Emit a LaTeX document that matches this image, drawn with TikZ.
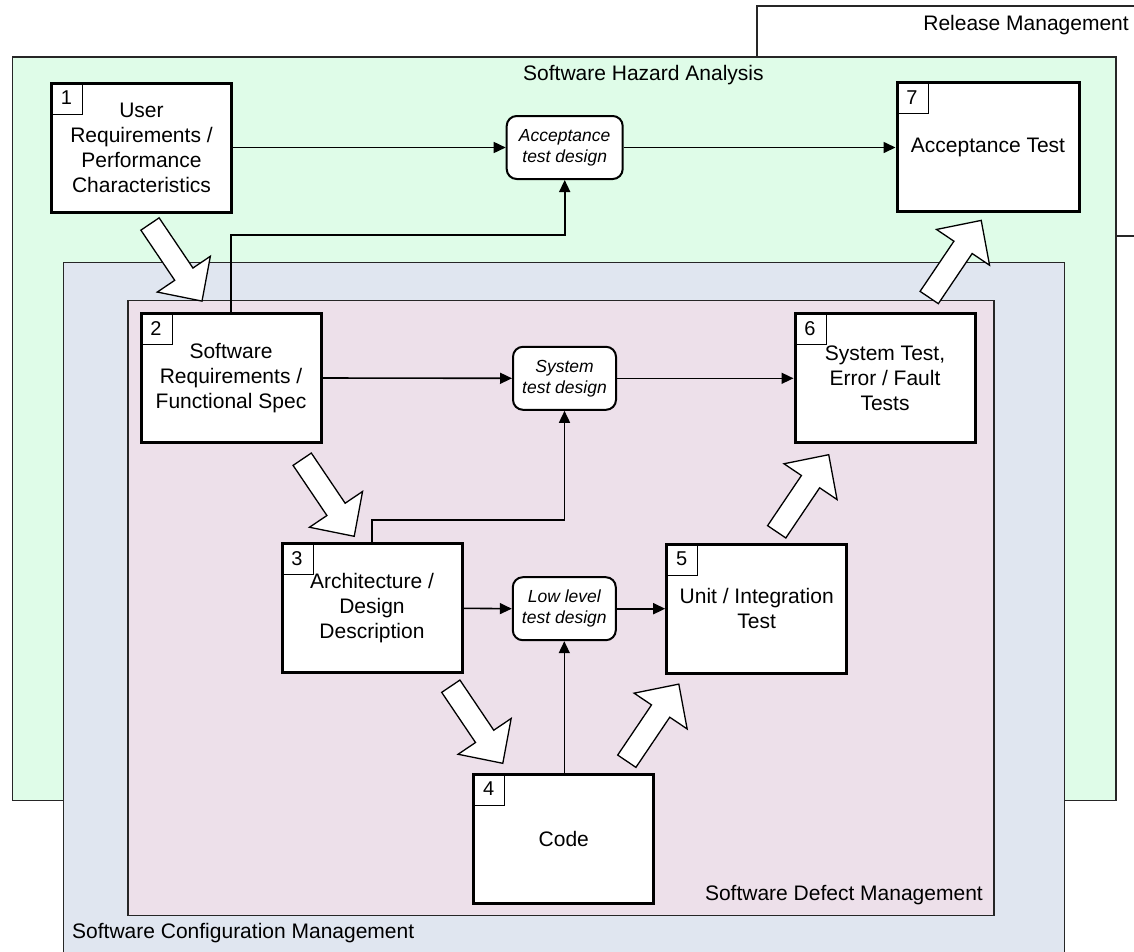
\documentclass[tikz,border=0pt]{standalone}
\usepackage{fontspec}
\setmainfont{Liberation Sans}
\usetikzlibrary{arrows.meta,calc}
\definecolor{hazard}{RGB}{223,252,232}
\definecolor{config}{RGB}{224,230,240}
\definecolor{defect}{RGB}{237,224,234}
\tikzset{
 stepbox/.style={draw, line width=3pt, fill=white, minimum width=180pt, minimum height=129pt, align=center, inner sep=0pt, font=\fontsize{21}{25}\selectfont},
 numbox/.style={draw, line width=1pt, minimum size=32pt, inner sep=0pt, anchor=north west, font=\fontsize{20}{20}\selectfont},
 design/.style={draw, line width=2pt, fill=white, rounded corners=10pt, minimum height=63pt, align=center, inner sep=0pt, font=\fontsize{17.5}{21}\selectfont\itshape},
 conn/.style={line width=1.6pt, -{Triangle[length=12pt,width=11pt]}},
 zone/.style={line width=1.5pt, draw=black!85},
 lbl/.style={inner sep=0pt, font=\fontsize{21}{25}\selectfont},
 pics/bigarrow/.style={code={\draw[line width=1.3pt, fill=white, line join=miter] (0,-11) -- (60.5,-11) -- (60.5,-32) -- (93,0) -- (60.5,32) -- (60.5,11) -- (0,11) -- cycle;}}
}
\begin{document}
\begin{tikzpicture}[x=1pt,y=-1pt]
\useasboundingbox (0,0) rectangle (1134,951);
\clip (0,0) rectangle (1134,951);
\fill[white] (0,0) rectangle (1134,951);
% zones
\draw[zone, fill=white] (757,6) rectangle (1170,236);
\node[lbl, anchor=east] (relL) at (1129,25) {Release Management};
\draw[zone, fill=hazard] (12.5,57) rectangle (1116,800.5);
\node[lbl, anchor=west] (hazL) at (523,75) {Software Hazard Analysis};
\draw[zone, fill=config] (63.5,262.5) rectangle (1064.5,980);
\node[lbl, anchor=west] (cfgL) at (72,933) {Software Configuration Management};
\draw[zone, fill=defect] (128,300.5) rectangle (994,915.5);
\node[lbl, anchor=east] (defL) at (983,895) {Software Defect Management};
% helper rows
\coordinate (k1) at (0,235);
\coordinate (k2) at (0,520);
% step nodes
\node[stepbox] (n1) at (141.5,147.5) {User\\Requirements /\\Performance\\Characteristics};
\node[stepbox] (n2) at (231,378) {Software\\Requirements /\\Functional Spec};
\node[stepbox] (n3) at (372,608.3) {Architecture /\\Design\\Description};
\node[stepbox] (n4) at (563.8,838.5) {Code};
\node[stepbox] (n5) at (756.7,608.5) {Unit / Integration\\Test};
\node[stepbox] (n6) at (885,378) {System Test,\\Error / Fault\\Tests};
\node[stepbox, minimum width=182pt] (n7) at (988,147) {Acceptance Test};
\foreach \i in {1,...,7} {\node[numbox] (num\i) at (n\i.north west) {\i};}
% design nodes
\node[design, minimum width=116pt] (acc) at (564.7,147.5) {Acceptance\\test design};
\node[design, minimum width=103pt] (sys) at (564.5,378.3) {System\\test design};
\node[design, minimum width=103pt] (low) at (564.3,608.7) {Low level\\test design};
% connectors
\draw[conn] (n1.east) -- (acc.west);
\draw[conn] (acc.east) -- (acc.east -| n7.west);
\draw[conn] (n2.north) -- (n2.north |- k1) -| (acc.south);
\draw[conn] (n2.east) -- (sys.west);
\draw[conn] (sys.east) -- (sys.east -| n6.west);
\draw[conn] (n3.north) -- (n3.north |- k2) -| (sys.south);
\draw[conn] (n3.east) -- (low.west);
\draw[conn] (low.east) -- (low.east -| n5.west);
\draw[conn] (low.south |- n4.north) -- (low.south);
% block arrows
\pic[rotate=-56] at (150,224) {bigarrow};
\pic[rotate=-56] at (302.2,459.2) {bigarrow};
\pic[rotate=-56] at (450.8,686.2) {bigarrow};
\pic[rotate=56] at (626.8,761.2) {bigarrow};
\pic[rotate=56] at (776.7,531.8) {bigarrow};
\pic[rotate=56] at (929.2,297.5) {bigarrow};
\end{tikzpicture}
\end{document}
